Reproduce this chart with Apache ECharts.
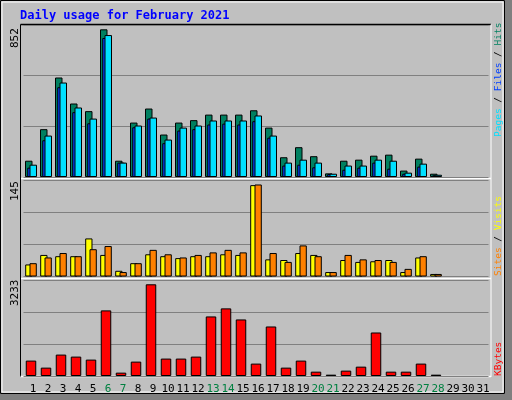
<!DOCTYPE html>
<html><head><meta charset="utf-8">
<script src="https://cdn.jsdelivr.net/npm/echarts@6/dist/echarts.min.js"></script>
<style>html,body{margin:0;padding:0;background:#c0c0c0}#c{width:512px;height:400px}</style>
</head><body><div id="c"></div>
<script>
const days = Array.from({length:31},(_,i)=>String(i+1));
const weekends = ['6','7','13','14','20','21','27','28'];
const hits   = [94,276,574,424,380,852,94,314,395,245,314,328,360,360,360,385,285,114,172,120,21,94,100,123,129,37,106,19,null,null,null];
const pages  = [54,212,518,374,310,802,83,287,337,195,268,276,303,308,303,322,227,66,71,56,17,42,54,83,48,19,60,10,null,null,null];
const files  = [71,239,545,401,337,819,83,297,343,216,285,297,326,326,326,355,239,83,100,83,19,66,66,100,94,25,77,13,null,null,null];
const visits = [19,34,32,32,60,34,9,21,35,32,29,32,32,35,34,144,27,26,37,34,7,26,23,24,26,7,30,4,null,null,null];
const sites  = [21,30,37,32,43,48,7,21,42,35,30,34,38,42,38,145,37,23,49,32,7,34,27,26,23,12,32,4,null,null,null];
const kbytes = [543,295,755,684,578,2313,118,507,3233,614,614,684,2100,2384,1994,437,1746,295,543,153,47,189,330,1534,153,153,437,47,null,null,null];
const maxLabels = ['852','145','3233'];

const font = 'DejaVu Sans Mono';
const grids = [
  {left:23.5,right:23.5,top:25,height:152},
  {left:23.5,right:23.5,top:180.5,height:96},
  {left:23.5,right:23.5,top:280,height:96}
];
function xa(i){return {type:'category',gridIndex:i,data:days,boundaryGap:true,
  axisLine:{show:false},axisTick:{show:false},
  axisLabel:{show:i===2,fontFamily:font,fontSize:11,margin:8,interval:0,padding:[0,0,0,4],
    color:(v)=>weekends.includes(v)?'#008040':'#000'}};}
function ya(i,max){return {type:'value',gridIndex:i,min:0,max:max,interval:max/3,
  axisLabel:{show:false},axisLine:{show:false},axisTick:{show:false},
  splitLine:{lineStyle:{color:'#808080',width:1}}};}
const bs = {borderColor:'#000',borderWidth:1};
function bar(name,data,g,color,w,gap){
  return {type:'bar',name,data,xAxisIndex:g,yAxisIndex:g,barWidth:w,barGap:gap,
    itemStyle:Object.assign({color},bs),animation:false,silent:true};
}
function vtext(x,y,rich,text,fontSize){
  return {type:'text',x,y,rotation:Math.PI/2,
    style:{text,rich,font:fontSize+'px '+font,fill:'#000',align:'left',verticalAlign:'middle'}};
}
const chart = echarts.init(document.getElementById('c'));
chart.setOption({
  backgroundColor:'#c0c0c0',
  animation:false,
  grid:grids,
  xAxis:[xa(0),xa(1),xa(2)],
  yAxis:[ya(0,877),ya(1,151.3),ya(2,3385)],
  series:[
    bar('Hits',hits,0,'#008060',7.5,'-70%'),
    bar('Pages',pages,0,'#0040ff',7.5,'-70%'),
    bar('Files',files,0,'#00e0ff',7.5,'-70%'),
    bar('Visits',visits,1,'#ffff00',7.3,'-41%'),
    bar('Sites',sites,1,'#ff8000',7.3,'-41%'),
    bar('KBytes',kbytes,2,'#ff0000',10.5,'0%')
  ],
  graphic:[
    {type:'rect',shape:{x:505,y:0,width:7,height:400},style:{fill:'#808080'},z:-10},
    {type:'rect',shape:{x:0,y:394,width:512,height:6},style:{fill:'#808080'},z:-10},
    {type:'rect',shape:{x:0.5,y:0.5,width:504,height:393},style:{fill:null,stroke:'#000'},z:-9},
    {type:'rect',shape:{x:2,y:2,width:501,height:390},style:{fill:null,stroke:'#fff'},z:-9},
    {type:'line',shape:{x1:21,y1:178.5,x2:491,y2:178.5},style:{stroke:'#fff',lineWidth:1.5}},
    {type:'line',shape:{x1:21,y1:278.5,x2:491,y2:278.5},style:{stroke:'#fff',lineWidth:1.5}},
    {type:'line',shape:{x1:20.5,y1:24.5,x2:491,y2:24.5},style:{stroke:'#000',lineWidth:1.5}},
    {type:'line',shape:{x1:20.5,y1:24.5,x2:20.5,y2:377},style:{stroke:'#000',lineWidth:1}},
    {type:'line',shape:{x1:20.5,y1:376.5,x2:491,y2:376.5},style:{stroke:'#fff',lineWidth:1.5}},
    {type:'line',shape:{x1:491,y1:24.5,x2:491,y2:377},style:{stroke:'#fff',lineWidth:1}},
    {type:'text',x:20,y:16,style:{text:'Daily usage for February 2021',font:'bold 12px '+font,fill:'#0000ff',verticalAlign:'middle'}},
    vtext(15,48,null,maxLabels[0],11),
    vtext(15,201,null,maxLabels[1],11),
    vtext(15,306,null,maxLabels[2],11),
    vtext(499,137,{a:{fill:'#00e0ff'},b:{fill:'#0040ff'},c:{fill:'#008060'},s:{fill:'#000'}},'{a|Pages}{s| / }{b|Files}{s| / }{c|Hits}',9.5),
    vtext(499,276,{a:{fill:'#ff8000'},b:{fill:'#ffff00'},s:{fill:'#000'}},'{a|Sites}{s| / }{b|Visits}',9.5),
    vtext(499,376,{a:{fill:'#ff0000'}},'{a|KBytes}',9.5)
  ]
});
</script></body></html>
